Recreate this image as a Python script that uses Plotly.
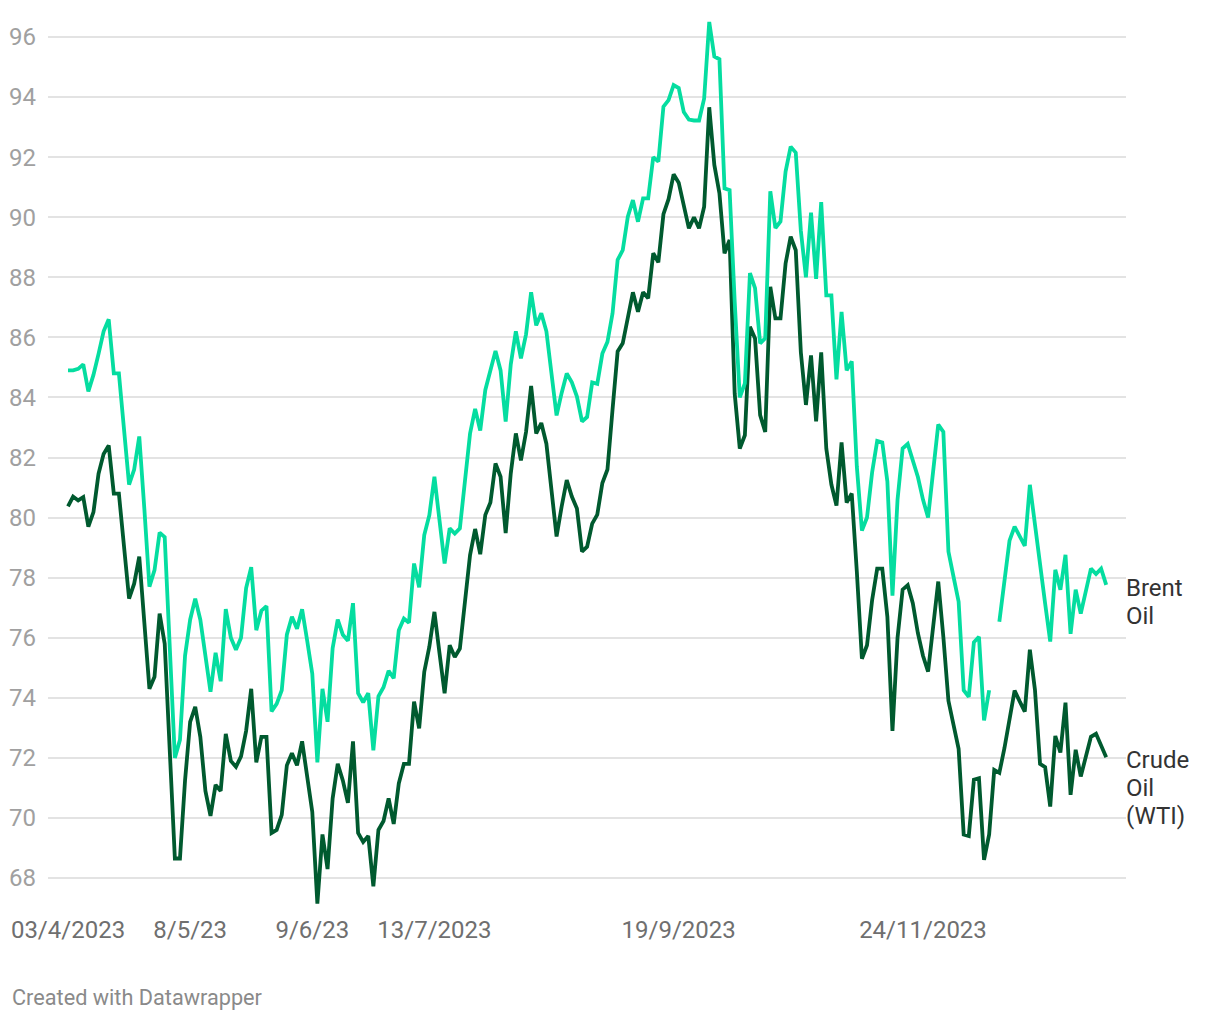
import plotly.graph_objects as go
import pandas as pd

# Brent and WTI daily prices (USD)
brent = [
    84.9, 84.9, 84.95, 85.1, 84.2, 84.75, 85.45, 86.2, 86.6, 84.8,
    84.8, 82.9, 81.1, 81.6, 82.7, 80.3, 77.7, 78.25, 79.5, 79.35,
    75.5, 72.0, 72.6, 75.4, 76.6, 77.3, 76.6, 75.5, 74.2, 75.5,
    74.55, 76.95, 76.0, 75.6, 76.0, 77.65, 78.35, 76.25, 76.9, 77.05,
    73.55, 73.8, 74.25, 76.1, 76.7, 76.3, 76.95, 75.9, 74.8, 71.85,
    74.3, 73.2, 75.65, 76.6, 76.1, 75.9, 77.15, 74.15, 73.85, 74.15,
    72.25, 74.05, 74.35, 74.9, 74.65, 76.25, 76.64, 76.5, 78.47, 77.68,
    79.42, 80.08, 81.36, 79.9, 78.47, 79.64, 79.47, 79.64, 81.25, 82.8,
    83.62, 82.9, 84.25, 84.96, 85.55, 84.9, 83.2, 85.1, 86.2, 85.3,
    86.1, 87.5, 86.4, 86.8, 86.2, 84.8, 83.4, 84.15, 84.8, 84.5,
    84.03, 83.2, 83.35, 84.5, 84.45, 85.46, 85.85, 86.8, 88.58, 88.9,
    90.02, 90.57, 89.85, 90.63, 90.63, 92.0, 91.85, 93.68, 93.9, 94.4,
    94.3, 93.5, 93.25, 93.22, 93.22, 93.95, 96.5, 95.35, 95.26, 90.96,
    90.9, 87.2, 84.0, 84.47, 88.14, 87.64, 85.8, 85.97, 90.86, 89.64,
    89.86, 91.52, 92.35, 92.15, 89.55, 88.0, 90.15, 87.95, 90.5, 87.4,
    87.4, 84.6, 86.85, 84.9, 85.2, 81.7, 79.57, 80.0, 81.5, 82.55,
    82.5, 81.2, 77.4, 80.6, 82.3, 82.45, 81.9, 81.35, 80.6, 80.0,
    81.55, 83.1, 82.85, 78.87, 78.03, 77.2, 74.25, 74.03, 75.85, 76.03,
    73.25, 74.25, None, 76.53, 77.92, 79.23, 79.7, 79.37, 79.06, 81.09,
    79.7, 78.37, 77.14, 75.87, 78.26, 77.6, 78.76, 76.13, 77.6, 76.8,
    77.5, 78.3, 78.12, 78.3, 77.76,
]

wti = [
    80.37, 80.7, 80.57, 80.68, 79.7, 80.18, 81.46, 82.12, 82.4, 80.8,
    80.8, 79.0, 77.3, 77.8, 78.7, 76.5, 74.3, 74.7, 76.8, 75.8,
    71.9, 68.65, 68.65, 71.25, 73.2, 73.7, 72.7, 70.9, 70.07, 71.1,
    70.9, 72.8, 71.9, 71.7, 72.05, 72.9, 74.3, 71.85, 72.7, 72.7,
    69.5, 69.6, 70.1, 71.75, 72.15, 71.75, 72.55, 71.4, 70.2, 67.15,
    69.45, 68.3, 70.65, 71.8, 71.25, 70.5, 72.55, 69.5, 69.2, 69.4,
    67.72, 69.6, 69.9, 70.65, 69.8, 71.15, 71.8, 71.8, 73.87, 72.98,
    74.86, 75.7, 76.86, 75.48, 74.15, 75.75, 75.36, 75.64, 77.2, 78.75,
    79.62, 78.78, 80.09, 80.5, 81.8, 81.36, 79.48, 81.47, 82.8, 81.9,
    82.85, 84.38, 82.8, 83.15, 82.46, 80.9, 79.37, 80.37, 81.25, 80.7,
    80.3, 78.87, 79.03, 79.8, 80.1, 81.15, 81.6, 83.6, 85.53, 85.8,
    86.6, 87.5, 86.85, 87.5, 87.3, 88.8, 88.5, 90.1, 90.6, 91.43,
    91.15, 90.35, 89.63, 90.0, 89.63, 90.35, 93.66, 91.74, 90.8, 88.8,
    89.24, 84.13, 82.3, 82.74, 86.35, 85.96, 83.41, 82.85, 87.68, 86.63,
    86.63, 88.46, 89.35, 88.9, 85.5, 83.75, 85.4, 83.2, 85.5, 82.3,
    81.1, 80.4, 82.5, 80.5, 80.8, 78.2, 75.3, 75.75, 77.25, 78.3,
    78.3, 76.7, 72.9, 76.0, 77.6, 77.75, 77.15, 76.15, 75.4, 74.87,
    76.37, 77.87, 76.03, 73.9, 73.1, 72.3, 69.45, 69.4, 71.27, 71.32,
    68.6, 69.45, 71.6, 71.5, 72.32, 73.27, 74.24, 73.88, 73.54, 75.6,
    74.27, 71.8, 71.69, 70.38, 72.73, 72.18, 73.84, 70.77, 72.27, 71.38,
    72.07, 72.7, 72.8, 72.43, 72.02,
]

# Trading days (weekdays, Good Friday excluded)
_days = pd.bdate_range("2023-04-03", periods=len(brent) + 1)
_days = [d for d in _days if d != pd.Timestamp("2023-04-07")][: len(brent)]
categories = [d.strftime("%Y-%m-%d") for d in _days]

tick_dates = ["2023-04-03", "2023-05-08", "2023-06-09", "2023-07-13", "2023-09-19", "2023-11-24"]
tick_labels = ["03/4/2023", "8/5/23", "9/6/23", "13/7/2023", "19/9/2023", "24/11/2023"]

y_ticks = list(range(68, 97, 2))

BRENT_COLOR = "#05dda0"
WTI_COLOR = "#005a2f"
FONT = "Roboto"

fig = go.Figure()
fig.add_trace(go.Scatter(x=categories, y=wti, mode="lines", name="Crude Oil (WTI)",
                         line=dict(color=WTI_COLOR, width=3.8), connectgaps=False,
                         hoverinfo="skip"))
fig.add_trace(go.Scatter(x=categories, y=brent, mode="lines", name="Brent Oil",
                         line=dict(color=BRENT_COLOR, width=3.8), connectgaps=False,
                         hoverinfo="skip"))

n = len(categories)
fig.update_xaxes(type="category", categoryorder="array", categoryarray=categories,
                 range=[-3.93, n - 1 + 3.89], automargin=False,
                 tickmode="array", tickvals=tick_dates, ticktext=tick_labels,
                 showgrid=False, zeroline=False, showline=False, ticks="",
                 ticklabelstandoff=3,
                 tickfont=dict(family=FONT, size=24, color="#6f6f6f"))
fig.update_yaxes(range=[66.935, 96.832], tickmode="array", tickvals=y_ticks,
                 ticktext=[str(v) for v in y_ticks], automargin=False,
                 showgrid=True, gridcolor="#e3e3e3", gridwidth=2,
                 zeroline=False, showline=False, ticks="", ticklabelstandoff=11,
                 tickfont=dict(family=FONT, size=24, color="#a0a0a0"))

annotations = []
label_lines = [
    (brent[-1], ["Brent", "Oil"]),
    (wti[-1], ["Crude", "Oil", "(WTI)"]),
]
for val, lines in label_lines:
    for k, txt in enumerate(lines):
        annotations.append(dict(x=1, xref="paper", y=val, yref="y", text=txt,
                                showarrow=False, xanchor="left", yanchor="middle",
                                xshift=-2, yshift=-3 - 28 * k,
                                font=dict(family=FONT, size=24, color="#333333")))

annotations.append(dict(x=(12 - 48) / 1078, xref="paper", y=(910 - 997) / 898, yref="paper",
                        text="Created with Datawrapper", showarrow=False,
                        xanchor="left", yanchor="middle", xshift=-2,
                        font=dict(family=FONT, size=21.7, color="#8a8a8a")))

fig.update_layout(width=1220, height=1020, autosize=False,
                  margin=dict(l=48, r=94, t=12, b=110, autoexpand=False),
                  paper_bgcolor="white", plot_bgcolor="white",
                  showlegend=False, annotations=annotations,
                  font=dict(family=FONT))

fig.write_html("out.html", config={"displayModeBar": False})
